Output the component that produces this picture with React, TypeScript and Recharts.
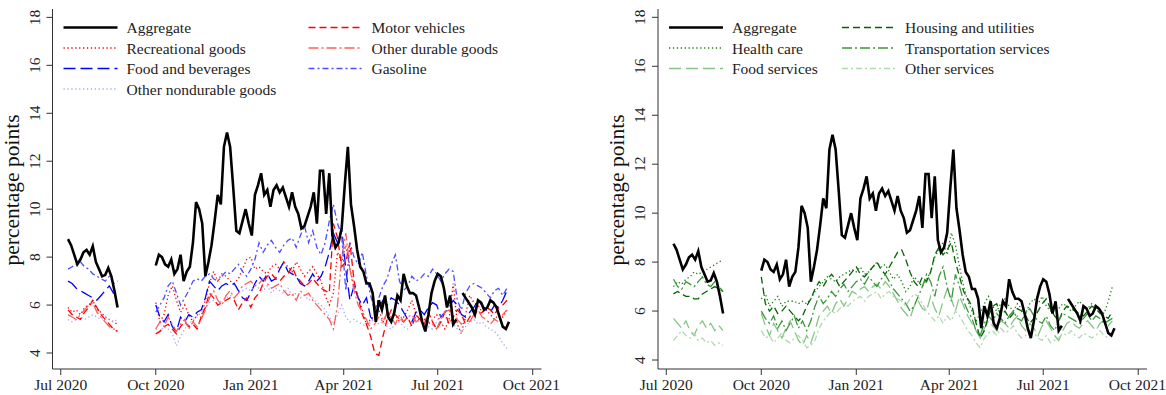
import { LineChart, Line, XAxis, YAxis } from "recharts";

const FONT = '"Liberation Serif", "DejaVu Serif", serif';

// days since 1 Jul 2020
const tickDays = [0, 92, 184, 274, 365, 457];
const tickLabels = ["Jul 2020", "Oct 2020", "Jan 2021", "Apr 2021", "Jul 2021", "Oct 2021"];
const yTicks = [4, 6, 8, 10, 12, 14, 16, 18];

// aggregate read every 3 days, components every 4 days.
// first null = gap between summer and autumn samples
const aggregate = [
  8.75, 8.5, 8.1, 7.7, 7.9, 8.2, 8.3, 8.1, 8.45, 7.8, 7.5, 7.2, 7.25, 7.55, 7.2, 6.6, 5.9, null,
  7.65, 8.1, 8.0, 7.7, 7.6, 7.9, 7.3, 7.5, 8.1, 7.0, 7.4, 7.6, 8.6, 10.3, 10.0, 9.4, 7.2, 7.8, 8.5, 9.5,
  10.6, 10.2, 12.6, 13.2, 12.6, 10.9, 9.1, 9.0, 9.5, 10.0, 9.4, 8.9, 10.6, 11.0, 11.5, 10.6, 10.8, 10.1,
  10.8, 11.0, 10.7, 10.9, 10.5, 10.1, 10.7, 10.1, 9.8, 9.2, 9.3, 9.7, 10.1, 10.7, 9.4, 11.6, 11.6, 9.8,
  11.5, 8.9, 8.4, 8.6, 9.2, 11.0, 12.6, 10.2, 9.3, 8.3, 7.6, 7.4, 6.9, 6.9, 6.5, 5.3, 6.2, 5.8, 6.4, 5.5,
  5.3, 5.7, 6.4, 6.2, 7.3, 6.8, 6.5, 6.5, 6.4, 5.9, 5.3, 4.9, 5.6, 6.5, 7.0, 7.3, 7.2, 6.7, 5.9, 6.4,
  5.2, 5.4, null, 6.5, 6.3, 6.1, 5.9, 5.6, 6.2, 6.1, 5.8, 5.9, 6.2, 6.1, 5.9, 5.5, 5.1, 5.0, 5.3,
];

const motorVehicles = [
  5.8, 5.6, 5.5, 5.4, 5.7, 5.9, 6.2, 5.9, 5.6, 5.4, 5.2, 5.0, 4.9, null,
  4.8, 4.9, 5.1, 5.2, 5.0, 4.8, 5.1, 5.3, 5.1, 5.2, 5.0, 5.5, 5.9, 6.5, 6.3, 6.0, 6.1, 6.2, 6.3, 6.2,
  5.8, 6.1, 6.3, 5.9, 6.3, 6.5, 6.9, 7.2, 7.3, 7.1, 7.0, 7.2, 7.3, 7.6, 7.2, 7.0, 6.8, 6.9, 7.1, 6.9,
  6.7, 6.6, 6.5, 9.4, 8.8, 7.6, 7.8, 8.6, 7.0, 6.3, 5.6, 5.2, 4.7, 4.0, 3.9, 4.7, 5.4, 5.8, 5.6, 5.4,
  5.3, 5.5, 5.1, 5.6, 5.4, 5.2, 5.7, 5.3, 5.0, 5.3, 5.7, 5.2, 5.5, 5.8, 5.6, 5.2, 5.5, 5.8, 5.6, 5.7,
  5.9, 5.8, 5.6, 5.9, 6.0, 6.2,
];
const recreationalGoods = [
  5.9, 5.7, 5.8, 5.6, 5.9, 6.0, 6.2, 5.8, 5.7, 5.5, 5.4, 5.3, 5.2, null,
  6.1, 5.3, 5.6, 6.4, 6.8, 6.2, 5.7, 6.0, 5.6, 5.3, 5.6, 5.5, 6.2, 6.9, 7.4, 7.0, 7.3, 7.2, 7.0, 6.9,
  7.1, 7.5, 7.9, 8.0, 7.5, 7.6, 7.4, 7.3, 7.6, 7.7, 7.5, 7.8, 7.6, 7.4, 7.8, 7.5, 7.2, 7.4, 7.6, 7.3,
  7.0, 6.4, 6.0, 6.5, 8.2, 7.8, 8.5, 7.5, 6.8, 6.3, 5.8, 5.2, 5.4, 5.6, 5.8, 5.3, 5.6, 5.4, 5.6, 5.3,
  5.5, 5.8, 6.2, 5.6, 5.3, 5.4, 5.2, 5.4, 5.6, 5.3, 5.0, 5.4, 6.9, 5.2, 4.8, 5.6, 6.4, 6.1, 6.0, 5.7,
  5.8, 5.6, 5.4, 5.6, 5.5, 5.8,
];
const otherDurable = [
  5.6, 5.5, 5.4, 5.6, 5.8, 6.0, 6.1, 5.7, 5.5, 5.3, 5.1, 5.0, 5.0, null,
  5.0, 5.3, 5.1, 5.5, 5.2, 4.9, 5.2, 5.4, 5.0, 5.3, 5.1, 5.4, 5.8, 6.3, 6.6, 6.2, 6.0, 6.4, 6.6, 6.3,
  6.5, 6.8, 6.9, 7.0, 6.8, 6.9, 7.1, 6.9, 6.7, 6.8, 6.9, 6.6, 6.4, 6.5, 6.2, 6.6, 6.4, 6.5, 6.2, 6.0,
  5.8, 5.6, 5.4, 5.0, 6.0, 8.0, 9.0, 7.5, 6.6, 6.0, 5.7, 5.4, 5.0, 5.2, 5.5, 5.3, 5.7, 5.5, 5.2, 5.6,
  5.3, 5.5, 5.6, 5.3, 5.4, 5.1, 5.3, 5.2, 5.0, 5.4, 5.7, 5.8, 5.5, 5.4, 5.2, 5.4, 5.3, 5.6, 5.8, 5.5,
  5.4, 5.2, 5.4, 5.3, 5.6, 5.8,
];
const foodBeverages = [
  7.0, 6.9, 6.7, 6.6, 6.5, 6.4, 6.3, 6.2, 6.4, 6.6, 6.8, 6.5, 6.4, null,
  6.0, 5.5, 5.3, 5.6, 5.1, 4.9, 5.5, 5.3, 5.6, 5.5, 5.7, 5.8, 6.3, 7.0, 6.8, 6.6, 6.8, 6.9, 6.8, 6.9,
  6.6, 6.3, 6.2, 6.5, 6.9, 7.2, 7.0, 7.3, 7.0, 7.1, 7.5, 7.8, 7.4, 7.3, 7.2, 6.9, 6.8, 7.0, 7.3, 7.0,
  7.2, 7.6, 8.2, 9.0, 8.6, 9.2, 7.5, 6.2, 6.8, 6.3, 6.0, 6.3, 5.5, 5.3, 5.9, 6.2, 6.0, 6.3, 6.2, 6.0,
  5.7, 5.4, 5.3, 5.7, 5.8, 5.6, 5.9, 6.1, 6.0, 5.5, 5.7, 5.9, 6.2, 6.0, 5.6, 5.5, 5.7, 5.9, 6.2, 6.0,
  5.8, 5.7, 6.0, 5.9, 6.2, 6.6,
];
const gasoline = [
  7.5, 7.6, 7.7, 7.8, 7.6, 7.5, 7.3, 7.2, 7.1, 7.0, 7.2, 6.9, 7.0, null,
  5.7, 6.0, 6.3, 6.8, 7.0, 6.5, 6.0, 6.3, 6.6, 7.0, 7.1, 7.0, 7.2, 7.3, 7.1, 7.0, 7.2, 7.4, 7.3, 7.5,
  7.7, 7.4, 7.2, 7.5, 7.9, 8.6, 8.2, 8.5, 8.7, 8.4, 8.2, 8.5, 8.7, 8.8, 8.4, 8.9, 9.3, 8.6, 9.1, 8.4,
  8.1, 8.6, 9.5, 10.2, 9.4, 8.9, 6.6, 8.6, 8.0, 7.7, 8.2, 7.2, 6.4, 5.8, 6.3, 6.8, 7.1, 7.7, 8.1, 7.0,
  6.6, 6.8, 7.2, 7.0, 7.1, 7.3, 7.2, 7.5, 7.3, 7.0, 7.3, 7.5, 7.4, 6.2, 5.8, 6.5, 6.8, 6.9, 6.8, 6.7,
  6.5, 6.3, 6.6, 6.7, 6.4, 6.7,
];
const otherNondurable = [
  5.4, 5.3, 5.4, 5.5, 5.4, 5.5, 5.6, 5.5, 5.4, 5.5, 5.4, 5.3, 5.4, null,
  5.0, 4.9, 5.1, 5.0, 4.8, 4.3, 4.7, 5.0, 5.2, 5.4, 5.5, 5.7, 5.9, 6.1, 6.2, 6.0, 6.2, 6.3, 6.4, 6.3,
  6.5, 6.6, 6.7, 6.6, 6.8, 6.7, 6.6, 6.8, 6.5, 6.7, 6.6, 6.5, 6.7, 6.4, 6.5, 6.3, 6.4, 6.2, 6.3, 6.1,
  6.0, 5.8, 5.5, 5.2, 5.6, 6.0, 5.5, 5.3, 5.4, 5.3, 5.2, 5.1, 5.3, 5.4, 5.2, 5.3, 5.1, 5.0, 5.2, 5.3,
  5.1, 5.0, 5.2, 5.4, 5.3, 5.2, 5.1, 5.0, 5.3, 5.6, 5.5, 5.4, 5.2, 5.0, 4.9, 5.1, 5.3, 5.4, 5.2, 5.3,
  5.1, 5.0, 4.9, 4.7, 4.4, 4.2,
];

const housingUtilities = [
  6.7, 6.8, 6.7, 6.6, 6.6, 6.5, 6.5, 6.7, 6.8, 6.9, 7.0, 6.9, 6.8, null,
  7.4, 6.3, 6.0, 6.2, 5.9, 6.0, 6.2, 6.0, 5.8, 5.6, 5.8, 6.2, 6.5, 6.9, 7.2, 7.0, 7.3, 7.5, 7.3, 7.0,
  7.2, 7.4, 7.6, 7.8, 7.5, 7.4, 7.6, 7.8, 8.0, 7.7, 7.5, 7.8, 8.1, 8.4, 8.5, 8.1, 7.6, 7.2, 7.0, 7.4,
  7.2, 7.6, 8.3, 8.6, 8.3, 8.5, 8.8, 8.0, 7.4, 6.8, 6.5, 6.2, 5.5, 4.9, 5.2, 5.8, 6.2, 6.3, 5.8, 6.0,
  5.7, 5.9, 6.1, 6.0, 5.8, 5.5, 5.7, 6.0, 6.3, 6.5, 6.1, 5.8, 5.6, 6.0, 6.2, 6.1, 6.0, 5.9, 5.8, 6.0,
  6.2, 6.1, 5.9, 5.8, 5.7, 6.0,
];
const healthCare = [
  7.0, 7.2, 7.1, 7.3, 7.4, 7.6, 7.5, 7.6, 7.7, 7.8, 7.9, 8.0, 8.1, null,
  6.5, 6.7, 6.2, 6.4, 6.6, 6.2, 6.4, 6.4, 6.4, 6.3, 6.4, 6.3, 6.5, 6.8, 7.0, 7.2, 7.4, 7.3, 7.2, 7.4,
  7.5, 7.6, 7.7, 7.6, 7.8, 7.5, 7.6, 7.8, 8.0, 7.8, 7.9, 7.6, 7.3, 7.5, 7.2, 6.8, 7.0, 7.4, 7.2, 7.0,
  7.3, 7.6, 8.2, 8.5, 8.8, 8.3, 9.2, 8.7, 7.8, 7.0, 6.4, 6.0, 5.6, 5.9, 6.3, 6.6, 6.2, 6.0, 6.3, 6.5,
  6.2, 6.0, 6.3, 6.1, 5.9, 6.3, 6.5, 6.3, 6.6, 6.2, 6.0, 6.2, 6.1, 6.3, 6.2, 6.0, 6.2, 6.4, 6.2, 6.1,
  6.3, 6.2, 6.0, 5.9, 6.4, 7.0,
];
const transportation = [
  7.3, 7.0, 6.9, 7.2, 7.1, 7.0, 7.2, 7.4, 7.1, 7.0, 7.2, 7.0, 6.8, null,
  6.0, 5.7, 5.5, 5.8, 5.3, 5.6, 5.2, 5.5, 5.8, 5.3, 5.6, 5.2, 5.6, 6.2, 6.6, 6.3, 6.5, 6.8, 6.6, 6.9,
  7.1, 6.8, 7.0, 7.2, 7.3, 7.1, 7.4, 7.2, 7.0, 7.3, 7.5, 7.2, 6.9, 6.7, 6.5, 6.3, 6.0, 6.2, 6.6, 7.0,
  7.5, 7.2, 6.6, 7.4, 7.8, 7.0, 6.4, 7.5, 7.0, 6.4, 6.0, 5.7, 5.2, 5.0, 5.5, 5.8, 5.6, 5.9, 5.7, 5.5,
  5.8, 6.0, 5.7, 5.6, 5.9, 6.1, 5.8, 5.6, 5.5, 5.8, 5.4, 5.2, 5.6, 5.9, 5.8, 5.7, 5.6, 5.5, 5.7, 5.9,
  5.6, 5.8, 5.7, 5.5, 5.6, 5.7,
];
const foodServices = [
  5.7, 5.5, 5.3, 5.6, 5.2, 5.0, 5.4, 5.6, 5.3, 5.5, 5.2, 5.4, 5.2, null,
  5.9, 5.4, 5.0, 5.5, 5.2, 4.9, 5.3, 5.6, 5.2, 4.8, 4.6, 5.0, 4.7, 5.2, 5.8, 6.0, 6.2, 5.9, 6.3, 6.5,
  6.2, 6.5, 6.8, 6.7, 6.9, 7.0, 6.8, 7.0, 7.1, 6.9, 7.2, 7.0, 6.7, 6.4, 6.1, 5.9, 5.7, 6.2, 6.4, 6.1,
  6.0, 6.6, 6.1, 5.8, 6.4, 6.9, 6.5, 6.0, 6.6, 6.2, 5.8, 5.5, 5.2, 4.9, 5.3, 5.6, 5.4, 5.2, 5.6, 5.5,
  5.3, 5.6, 5.8, 5.4, 5.2, 5.5, 5.3, 5.0, 5.4, 5.6, 5.3, 5.0, 4.8, 5.2, 5.5, 5.6, 5.4, 5.3, 5.5, 5.6,
  5.4, 5.2, 5.5, 5.6, 5.4, 5.6,
];
const otherServices = [
  4.8, 5.0, 5.2, 5.0, 4.9, 5.1, 4.8, 4.9, 4.7, 4.8, 4.6, 4.7, 4.6, null,
  5.2, 4.9, 5.0, 4.7, 4.9, 5.1, 4.8, 4.7, 4.9, 5.0, 4.8, 4.5, 4.6, 4.8, 5.3, 5.6, 5.8, 6.0, 5.9, 6.1,
  6.3, 6.2, 6.4, 6.5, 6.6, 6.4, 6.6, 6.7, 6.8, 6.5, 6.7, 6.8, 6.6, 6.5, 6.4, 6.2, 6.5, 6.7, 6.6, 6.3,
  6.0, 5.8, 5.6, 5.8, 5.5, 5.8, 5.6, 6.0, 5.8, 5.5, 5.2, 5.0, 4.7, 4.5, 4.9, 5.1, 5.2, 5.0, 5.3, 5.1,
  5.2, 5.4, 5.1, 4.9, 5.0, 5.2, 5.1, 4.9, 4.8, 5.0, 4.7, 4.8, 4.9, 5.1, 5.0, 5.2, 5.0, 4.9, 5.1, 5.0,
  4.9, 5.0, 5.2, 5.0, 4.9, 5.1,
];

// turn a value list into {d, v} rows; the first null jumps to 1 Oct 2020
function toRows(values: (number | null)[], step: number) {
  const rows: { d: number; v: number | null }[] = [];
  let day = 7;
  for (const v of values) {
    if (v === null && day < 92) {
      rows.push({ d: day, v: null });
      day = 92;
      continue;
    }
    rows.push({ d: day, v });
    day += step;
  }
  return rows;
}

type S = { name: string; values: (number | null)[]; color: string; dash?: string; width: number; step: number };

const AGG: S = { name: "Aggregate", values: aggregate, color: "#000", width: 2.6, step: 3 };

const goods: S[] = [
  AGG,
  { name: "Recreational goods", values: recreationalGoods, color: "#ff0000", dash: "1.3 2.6", width: 1.3, step: 4 },
  { name: "Food and beverages", values: foodBeverages, color: "#0000ff", dash: "12 5", width: 1.3, step: 4 },
  { name: "Other nondurable goods", values: otherNondurable, color: "#a8a8ff", dash: "1.3 2.6", width: 1.3, step: 4 },
  { name: "Motor vehicles", values: motorVehicles, color: "#ff0000", dash: "7 4", width: 1.3, step: 4 },
  { name: "Other durable goods", values: otherDurable, color: "#ff5c5c", dash: "10 3 2 3", width: 1.3, step: 4 },
  { name: "Gasoline", values: gasoline, color: "#4d4dff", dash: "6 3 2 3", width: 1.3, step: 4 },
];

const services: S[] = [
  AGG,
  { name: "Health care", values: healthCare, color: "#1a801a", dash: "1.3 2.6", width: 1.3, step: 4 },
  { name: "Food services", values: foodServices, color: "#86c486", dash: "12 5", width: 1.3, step: 4 },
  { name: "Housing and utilities", values: housingUtilities, color: "#006400", dash: "7 4", width: 1.3, step: 4 },
  { name: "Transportation services", values: transportation, color: "#3c963c", dash: "10 3 2 3", width: 1.3, step: 4 },
  { name: "Other services", values: otherServices, color: "#b0d9b0", dash: "6 3 2 3", width: 1.3, step: 4 },
];

const YTick = (props: any) => {
  const { x, y, payload } = props;
  return (
    <g transform={`translate(${x},${y})`}>
      <text transform="rotate(-90)" textAnchor="middle" fontFamily={FONT} fontSize={15.5} fill="#222">
        {payload.value}
      </text>
    </g>
  );
};

function Panel({ series, left, width, plotLeft, yDomain, legendRows, colGap }: any) {
  const order = [...series.slice(1), series[0]];
  const legendCols = [series.slice(0, legendRows), series.slice(legendRows)];
  return (
    <div style={{ position: "absolute", left, top: 0, width, height: 395 }}>
      <LineChart width={width} height={395} margin={{ top: 9, right: width - plotLeft - 489, bottom: 0, left: plotLeft - 40 }}>
        <XAxis
          type="number"
          dataKey="d"
          domain={[-8, 465.5]}
          allowDataOverflow
          ticks={tickDays}
          tickFormatter={(d: number) => tickLabels[tickDays.indexOf(d)]}
          height={26}
          tickSize={6}
          tickMargin={4}
          stroke="#333"
          tick={{ fontFamily: FONT, fontSize: 15.5, fill: "#222" }}
        />
        <XAxis xAxisId="top" orientation="top" type="number" dataKey="d" domain={[-8, 465.5]} allowDataOverflow height={0} tick={false} tickLine={false} stroke="#333" />
        <YAxis
          type="number"
          domain={yDomain}
          allowDataOverflow
          ticks={yTicks}
          width={40}
          tickSize={6}
          tickMargin={7}
          stroke="#333"
          tick={<YTick />}
        />
        <YAxis yAxisId="r" orientation="right" type="number" domain={yDomain} allowDataOverflow width={0} tick={false} tickLine={false} stroke="#333" />
        {order.map((s: S) => (
          <Line
            key={s.name}
            data={toRows(s.values, s.step)}
            dataKey="v"
            stroke={s.color}
            strokeWidth={s.width}
            strokeDasharray={s.dash}
            dot={false}
            isAnimationActive={false}
            type="linear"
          />
        ))}
      </LineChart>
      <svg width={width} height={395} style={{ position: "absolute", left: 0, top: 0, pointerEvents: "none" }}>
        <text
          transform={`translate(${plotLeft - 34},190) rotate(-90)`}
          textAnchor="middle"
          fontFamily={FONT}
          fontSize={21.5}
          fill="#111"
        >
          percentage points
        </text>
        {legendCols.map((col: S[], ci: number) =>
          col.map((s: S, ri: number) => {
            const x0 = plotLeft + 11 + ci * colGap;
            const y = 27.5 + ri * 20.5;
            return (
              <g key={s.name}>
                <line x1={x0} x2={x0 + 54} y1={y} y2={y} stroke={s.color} strokeWidth={s.width === 1.3 ? 1.5 : 2.6} strokeDasharray={s.dash} />
                <text x={x0 + 63} y={y} dominantBaseline="central" fontFamily={FONT} fontSize={15.5} fill="#222">
                  {s.name}
                </text>
              </g>
            );
          })
        )}
      </svg>
    </div>
  );
}

export default function App() {
  return (
    <div style={{ position: "absolute", left: 0, top: 0, width: 1166, height: 395, background: "#fff" }}>
      <Panel series={goods} left={0} width={560} plotLeft={52.5} yDomain={[3.333, 18.35]} legendRows={4} colGap={245} />
      <Panel series={services} left={600} width={566} plotLeft={58} yDomain={[3.633, 18.34]} legendRows={3} colGap={173} />
    </div>
  );
}
